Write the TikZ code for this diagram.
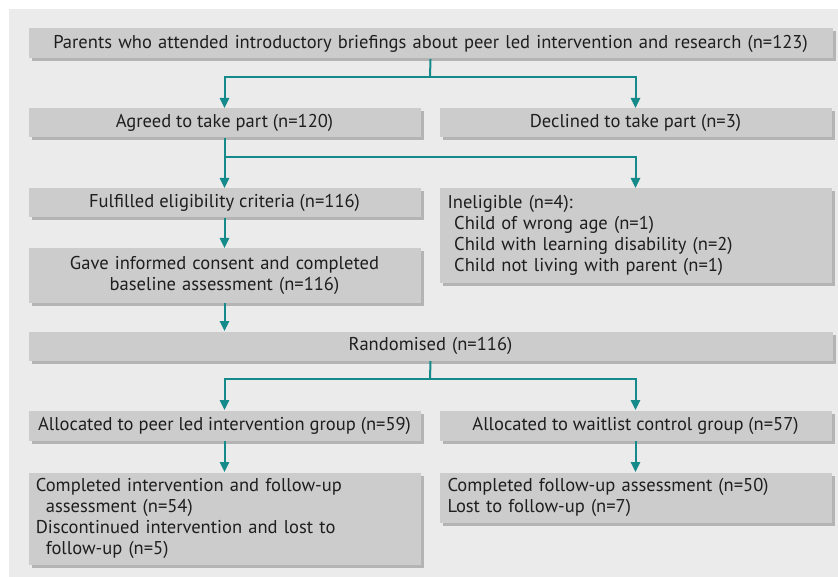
\documentclass[tikz,border=0pt]{standalone}
\usepackage{fontspec}
\setmainfont{PT Sans}
\usepackage{xcolor}
\usepackage{tikz}
\usetikzlibrary{shadows}
\usetikzlibrary{arrows.meta}
\definecolor{bggrey}{RGB}{235,235,235}
\definecolor{boxgrey}{RGB}{204,204,204}
\definecolor{shadowgrey}{RGB}{180,180,180}
\definecolor{flowteal}{RGB}{20,138,138}
\definecolor{textgrey}{RGB}{30,30,30}
\tikzset{every picture/.style={line width=0.75pt}}
\tikzset{
  box/.style={fill=boxgrey, anchor=north west, inner xsep=4.5pt, inner ysep=0pt,
    text=textgrey, font=\fontsize{13.9}{15.75}\selectfont,
    drop shadow={shadow xshift=2.25pt, shadow yshift=-2.25pt, fill=shadowgrey, opacity=1}},
  widebox/.style={box, text width=594pt, align=center},
  halfbox/.style={box, text width=285pt},
  linebox/.style={box, minimum width=294pt},
  flowline/.style={draw=flowteal, line width=1.5pt},
  flowarrow/.style={flowline, -{Triangle[length=7.5pt,width=7pt]}}
}

\begin{document}
\begin{tikzpicture}[x=0.75pt,y=0.75pt,yscale=-1,xscale=1]

\useasboundingbox (0,0) rectangle (838,577);
\fill [bggrey] (9,9) rectangle (838,577);

% Boxes
\node [widebox, minimum height=22.5pt] (briefing) at (28,28) {Parents who attended introductory briefings about peer led intervention and research (n=123)};
\node [linebox, minimum height=21.75pt] (agreed) at (28,108) {Agreed to take part (n=120)};
\node [linebox, minimum height=21.75pt] (declined) at (439,108) {Declined to take part (n=3)};
\node [linebox, minimum height=21.75pt] (eligible) at (28,188) {Fulfilled eligibility criteria (n=116)};
\node [halfbox, align=left, minimum height=70.5pt] (ineligible) at (439,188) {\hspace*{1.5pt}Ineligible (n=4):\\
  \hspace*{6.5pt}Child of wrong age (n=1)\\
  \hspace*{6.5pt}Child with learning disability (n=2)\\
  \hspace*{6.5pt}Child not living with parent (n=1)};
\node [halfbox, align=center, minimum height=40.5pt] (consent) at (28,248) {Gave informed consent and completed\\ baseline assessment (n=116)};
\node [widebox, minimum height=21.75pt] (random) at (28,331) {Randomised (n=116)};
\node [linebox, minimum height=22.5pt] (peer) at (28,410) {Allocated to peer led intervention group (n=59)};
\node [linebox, minimum height=22.5pt] (waitlist) at (439,410) {Allocated to waitlist control group (n=57)};
\node [halfbox, align=left, minimum height=69pt] (peerfu) at (28,472) {\hspace*{1pt}Completed intervention and follow-up\\
  \hspace*{8.5pt}assessment (n=54)\\
  \hspace*{1pt}Discontinued intervention and lost to\\
  \hspace*{8.5pt}follow-up (n=5)};
\node [halfbox, align=left, minimum height=37.5pt] (waitfu) at (439,472) {\hspace*{1.5pt}Completed follow-up assessment (n=50)\\
  \hspace*{1.5pt}Lost to follow-up (n=7)};

% Split points
\coordinate (split1) at (430,77);
\coordinate (split2) at (224,157);
\coordinate (split3) at (430,379);

% Connectors
\draw [flowline] (briefing.south) -- (split1);
\draw [flowarrow] (split1) -| (agreed.north);
\draw [flowarrow] (split1) -| (declined.north);
\draw [flowarrow] (agreed.south) -- (eligible.north);
\draw [flowarrow] (split2) -| (ineligible.north);
\draw [flowarrow] (eligible.south) -- (consent.north);
\draw [flowarrow] (consent.south) -- (consent.south |- random.north);
\draw [flowline] (random.south) -- (split3);
\draw [flowarrow] (split3) -| (peer.north);
\draw [flowarrow] (split3) -| (waitlist.north);
\draw [flowarrow] (peer.south) -- (peerfu.north);
\draw [flowarrow] (waitlist.south) -- (waitfu.north);
\end{tikzpicture}
\end{document}
